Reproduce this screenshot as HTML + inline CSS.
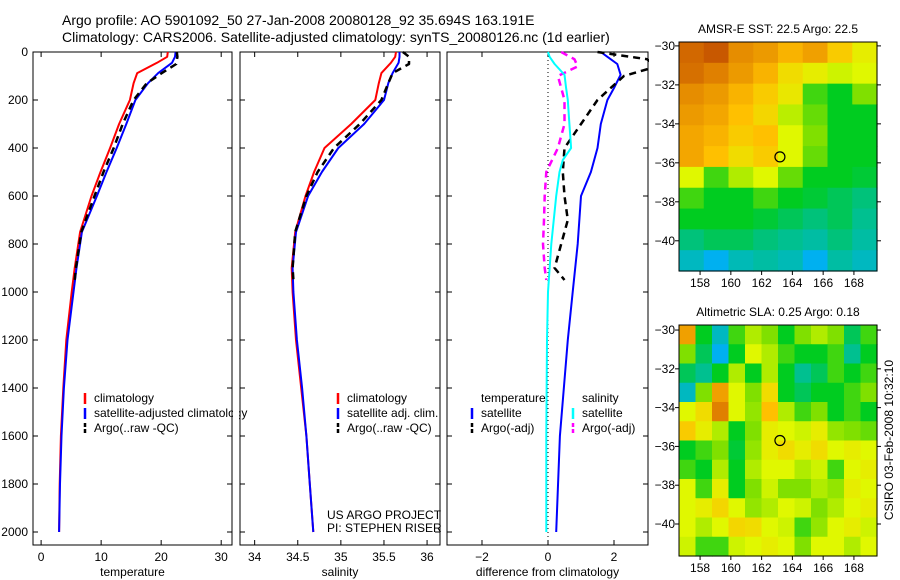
<!DOCTYPE html>
<html><head><meta charset="utf-8">
<style>
html,body{margin:0;padding:0;background:#fff;}
svg{display:block;font-family:"Liberation Sans",sans-serif;}
</style></head>
<body>
<svg id="fig" width="900" height="580" viewBox="0 0 900 580">
<text x="62" y="25" font-size="14">Argo profile: AO 5901092_50 27-Jan-2008 20080128_92 35.694S 163.191E</text>
<text x="62" y="42" font-size="14">Climatology: CARS2006. Satellite-adjusted climatology: synTS_20080126.nc (1d earlier)</text>
<g id="g"></g>
</svg>
<script>
// ---- data ----
const depthTicks=[0,200,400,600,800,1000,1200,1400,1600,1800,2000];
const tempTicks=[0,10,20,30];
const salTicks=[34,34.5,35,35.5,36];
const diffTicks=[-2,0,2];
const tDepth=[0,20,45,88,130,200,300,400,500,600,750,900,1000,1200,1400,1600,1800,2000];
const tClim=[21.1,21,19.3,16,15.4,14.8,13,11.5,9.9,8.4,6.5,5.6,5.1,4.2,3.7,3.3,3.1,3.0];
const tSat=[22.4,22.3,21.8,19.5,17.8,15.7,14.2,12.6,10.9,9.3,6.8,5.9,5.4,4.4,3.8,3.4,3.15,3.0];
const aDepth=[0,20,50,88,130,200,300,400,500,600,750,900,950];
const tArgo=[22.6,22.7,22.5,20.1,17.6,15.4,13.6,12.1,10.4,8.9,6.7,5.8,5.6];
const sClim=[35.64,35.63,35.58,35.47,35.44,35.40,35.12,34.81,34.69,34.59,34.47,34.43,34.44,34.48,34.54,34.6,34.64,34.68];
const sSat=[35.68,35.68,35.67,35.6,35.55,35.5,35.27,34.97,34.78,34.62,34.48,34.44,34.45,34.49,34.55,34.6,34.64,34.68];
const sArgo=[35.72,35.79,35.79,35.6,35.55,35.47,35.22,34.92,34.73,34.6,34.47,34.44,34.45];
const dDepth=[0,20,50,95,150,200,300,400,450,500,600,800,1000,1200,1600,2000];
const dTSat=[1.6,1.8,2.1,2.2,2.0,1.8,1.6,1.5,1.4,1.3,1.0,0.9,0.75,0.6,0.36,0.25];
const dSSat=[0,0.05,0.2,0.5,0.55,0.6,0.65,0.7,0.45,0.35,0.25,0.1,0,-0.03,-0.05,-0.05];
const dDepth2=[0,30,60,100,200,300,400,500,600,700,800,900,950];
const dTArgo=[1.5,3.0,3.3,2.3,1.5,1.0,0.5,0.45,0.5,0.6,0.4,0.2,0.5];
const dSArgo=[0.4,0.8,0.9,0.3,0.5,0.5,0.3,-0.05,-0.1,-0.12,-0.15,-0.1,-0.05];
const lonTicks=[158,160,162,164,166,168];
const latTicks=[-30,-32,-34,-36,-38,-40];
const sstGrid=[
[0.93,0.95,0.88,0.86,0.82,0.85,0.78,0.72],
[0.92,0.9,0.86,0.82,0.75,0.72,0.68,0.7],
[0.88,0.86,0.82,0.78,0.73,0.55,0.5,0.6],
[0.86,0.84,0.8,0.76,0.66,0.58,0.5,0.5],
[0.84,0.82,0.78,0.8,0.7,0.6,0.5,0.5],
[0.84,0.8,0.75,0.78,0.7,0.58,0.5,0.5],
[0.7,0.55,0.65,0.7,0.58,0.5,0.5,0.48],
[0.55,0.5,0.5,0.55,0.5,0.48,0.45,0.42],
[0.5,0.5,0.5,0.48,0.45,0.42,0.45,0.4],
[0.42,0.45,0.45,0.42,0.4,0.38,0.42,0.38],
[0.35,0.3,0.36,0.38,0.36,0.3,0.38,0.35]];
const slaGrid=[
[0.85,0.5,0.35,0.55,0.65,0.6,0.5,0.6,0.65,0.6,0.45,0.55],
[0.6,0.45,0.3,0.5,0.7,0.65,0.55,0.5,0.5,0.55,0.4,0.5],
[0.45,0.4,0.5,0.65,0.5,0.65,0.5,0.4,0.45,0.55,0.5,0.55],
[0.35,0.6,0.85,0.7,0.6,0.75,0.5,0.45,0.5,0.5,0.55,0.6],
[0.7,0.75,0.9,0.7,0.62,0.8,0.65,0.55,0.6,0.5,0.55,0.5],
[0.78,0.72,0.65,0.5,0.6,0.72,0.7,0.68,0.72,0.62,0.6,0.58],
[0.5,0.55,0.6,0.48,0.62,0.72,0.75,0.72,0.75,0.7,0.72,0.7],
[0.55,0.5,0.65,0.5,0.65,0.7,0.7,0.65,0.68,0.55,0.7,0.72],
[0.7,0.55,0.72,0.5,0.6,0.68,0.6,0.6,0.65,0.62,0.72,0.7],
[0.7,0.72,0.76,0.7,0.62,0.65,0.7,0.68,0.6,0.65,0.7,0.72],
[0.7,0.65,0.7,0.76,0.75,0.7,0.68,0.55,0.62,0.7,0.72,0.68],
[0.68,0.55,0.55,0.68,0.7,0.72,0.7,0.6,0.7,0.7,0.65,0.7]];
const floatLon=163.191, floatLat=-35.694;

// ---- helpers ----
const NS="http://www.w3.org/2000/svg";
const G=document.getElementById('g');
function mk(tag,attrs,parent){const e=document.createElementNS(NS,tag);for(const k in attrs)e.setAttribute(k,attrs[k]);(parent||G).appendChild(e);return e;}
const Y0=52, PXM=0.24;
const yD=d=>Y0+d*PXM;
const panels=[
 {x0:33,x1:232,v0:-1.35,v1:31.8,ticks:tempTicks,title:'temperature',fmt:v=>String(v)},
 {x0:240,x1:440,v0:33.83,v1:36.15,ticks:salTicks,title:'salinity',fmt:v=>String(v)},
 {x0:447,x1:648,v0:-3.06,v1:3.03,ticks:diffTicks,title:'difference from climatology',fmt:v=>String(v).replace('-','\u2212')}
];
panels.forEach(p=>{p.x=v=>p.x0+(v-p.v0)/(p.v1-p.v0)*(p.x1-p.x0);});
const BOT=545;
panels.forEach((p,i)=>{
  const r=mk('rect',{x:p.x0,y:Y0,width:p.x1-p.x0,height:BOT-Y0,fill:'none',stroke:'#000','stroke-width':1});
  
  
  p.ticks.forEach(t=>{
    const X=p.x(t);
    mk('line',{x1:X,x2:X,y1:Y0,y2:Y0+5,stroke:'#000'});
    mk('line',{x1:X,x2:X,y1:BOT,y2:BOT-5,stroke:'#000'});
    const tx=mk('text',{x:X,y:561,'font-size':12,'text-anchor':'middle'});tx.textContent=p.fmt(t);
    
    
  });
  depthTicks.forEach(d=>{
    mk('line',{x1:p.x0,x2:p.x0+5,y1:yD(d),y2:yD(d),stroke:'#000'});
    mk('line',{x1:p.x1,x2:p.x1-5,y1:yD(d),y2:yD(d),stroke:'#000'});
  });
  const at=mk('text',{x:(p.x0+p.x1)/2,y:576,'font-size':12,'text-anchor':'middle'});at.textContent=p.title;
  
  
});
depthTicks.forEach(d=>{
  const t=mk('text',{x:28,y:yD(d)+4,'font-size':12,'text-anchor':'end'});t.textContent=d;
  
  
});
// zero line in diff panel
const zl=mk('line',{x1:panels[2].x(0),x2:panels[2].x(0),y1:Y0,y2:BOT,stroke:'#000','stroke-dasharray':'1,3'});



function series(p,depths,vals,color,dash,name){
  const d=depths.map((z,i)=>(i?'L':'M')+p.x(vals[i]).toFixed(1)+','+yD(z).toFixed(1)).join('');
  const a={d:d,fill:'none',stroke:color,'stroke-width':dash?2.5:2,'stroke-linejoin':'round'};
  if(dash)a['stroke-dasharray']='7,5';
  const e=mk('path',a);
  
  
}
const P=panels;
series(P[0],tDepth,tClim,'#f00',false,'temp-climatology-line');
series(P[0],tDepth,tSat,'#00f',false,'temp-satellite-line');
series(P[0],aDepth,tArgo,'#000',true,'temp-argo-line');
series(P[1],tDepth,sClim,'#f00',false,'sal-climatology-line');
series(P[1],tDepth,sSat,'#00f',false,'sal-satellite-line');
series(P[1],aDepth,sArgo,'#000',true,'sal-argo-line');
series(P[2],dDepth,dTSat,'#00f',false,'diff-temp-satellite-line');
series(P[2],dDepth2,dTArgo,'#000',true,'diff-temp-argo-line');
series(P[2],dDepth2,dSArgo,'#f0f',true,'diff-sal-argo-line');
series(P[2],dDepth,dSSat,'#0ff',false,'diff-sal-satellite-line');
// mask overflow of diff panel right
mk('rect',{x:649,y:40,width:10,height:510,fill:'#fff'});

function legend(x,y,items,nm){
  items.forEach((it,i)=>{
    const yy=y+i*15;
    if(it.c){const l=mk('line',{x1:x,x2:x,y1:yy-9,y2:yy+2,stroke:it.c,'stroke-width':2.5});
      if(it.dash)l.setAttribute('stroke-dasharray','4,2');}
    const t=mk('text',{x:x+(it.c?9:0),y:yy,'font-size':12});t.textContent=it.t;
    
    
  });
}
legend(85,402,[{t:'climatology',c:'#f00'},{t:'satellite-adjusted climatology',c:'#00f'},{t:'Argo(..raw -QC)',c:'#000',dash:1}],'temp-legend-entry');
mk('rect',{x:233,y:390,width:6,height:50,fill:'#fff'});
legend(338,402,[{t:'climatology',c:'#f00'},{t:'satellite adj. clim.',c:'#00f'},{t:'Argo(..raw -QC)',c:'#000',dash:1}],'sal-legend-entry');
legend(481,402,[{t:'temperature'}],'diff-legend-entry');
legend(472,417,[{t:'satellite',c:'#00f'},{t:'Argo(-adj)',c:'#000',dash:1}],'diff-legend-entry');
legend(582,402,[{t:'salinity'}],'diff-legend-entry');
legend(573,417,[{t:'satellite',c:'#0ff'},{t:'Argo(-adj)',c:'#f0f',dash:1}],'diff-legend-entry');
const u1=mk('text',{x:327,y:519,'font-size':12});u1.textContent='US ARGO PROJECT';

const u2=mk('text',{x:327,y:532,'font-size':12});u2.textContent='PI: STEPHEN RISER';


// ---- maps ----
const stops=[[0.2,[0,80,255]],[0.3,[0,176,240]],[0.4,[0,192,144]],[0.5,[0,204,32]],[0.6,[128,224,0]],[0.7,[224,248,0]],[0.8,[255,192,0]],[0.9,[224,128,0]],[1.0,[176,48,0]]];
function cmap(v){
  if(v<=stops[0][0])return 'rgb('+stops[0][1]+')';
  for(let i=1;i<stops.length;i++){if(v<=stops[i][0]){const a=stops[i-1],b=stops[i],f=(v-a[0])/(b[0]-a[0]);
    return 'rgb('+a[1].map((c,k)=>Math.round(c+(b[1][k]-c)*f)).join(',')+')';}}
  return 'rgb('+stops[stops.length-1][1]+')';
}
function drawMap(m){
  const lonX=l=>m.x0+(l-m.lon0)/(m.lon1-m.lon0)*(m.x1-m.x0);
  const latY=l=>m.y0+(m.lat0-l)/(m.lat0-m.lat1)*(m.y1-m.y0);
  const rows=m.grid.length, cols=m.grid[0].length;
  const cw=(m.x1-m.x0)/cols, ch=(m.y1-m.y0)/rows;
  m.grid.forEach((row,r)=>row.forEach((v,c)=>{
    const e=mk('rect',{x:(m.x0+c*cw).toFixed(2),y:(m.y0+r*ch).toFixed(2),width:(cw+0.6).toFixed(2),height:(ch+0.6).toFixed(2),fill:cmap(v)});
    
    
  }));
  const fr=mk('rect',{x:m.x0,y:m.y0,width:m.x1-m.x0,height:m.y1-m.y0,fill:'none',stroke:'#000'});
  
  
  lonTicks.forEach(l=>{const X=lonX(l);
    mk('line',{x1:X,x2:X,y1:m.y1,y2:m.y1+4,stroke:'#000'});
    const t=mk('text',{x:X,y:m.y1+16,'font-size':12,'text-anchor':'middle'});t.textContent=l;
    });
  latTicks.forEach(l=>{const Y=latY(l);
    mk('line',{x1:m.x0-4,x2:m.x0,y1:Y,y2:Y,stroke:'#000'});
    mk('line',{x1:m.x1,x2:m.x1+4,y1:Y,y2:Y,stroke:'#000'});
    const t=mk('text',{x:m.x0-4,y:Y+4,'font-size':12,'text-anchor':'end'});t.textContent=String(l).replace('-','\u2212');
    });
  const c=mk('circle',{cx:lonX(floatLon),cy:latY(floatLat),r:5,fill:'none',stroke:'#000','stroke-width':1.2});
  
  
  const tt=mk('text',{x:(m.x0+m.x1)/2,y:m.y0-9,'font-size':12,'text-anchor':'middle'});tt.textContent=m.title;
  
}
drawMap({name:'sst-map',grid:sstGrid,x0:679,x1:877,y0:42,y1:271,lon0:156.63,lon1:169.5,lat0:-29.8,lat1:-41.55,title:'AMSR-E SST: 22.5 Argo: 22.5'});
drawMap({name:'sla-map',grid:slaGrid,x0:679,x1:877,y0:325,y1:556,lon0:156.63,lon1:169.5,lat0:-29.74,lat1:-41.65,title:'Altimetric SLA: 0.25 Argo: 0.18'});
const cs=mk('text',{x:893,y:440,'font-size':12,'text-anchor':'middle',transform:'rotate(-90 893 440)'});cs.textContent='CSIRO 03-Feb-2008 10:32:10';

</script>
</body></html>
